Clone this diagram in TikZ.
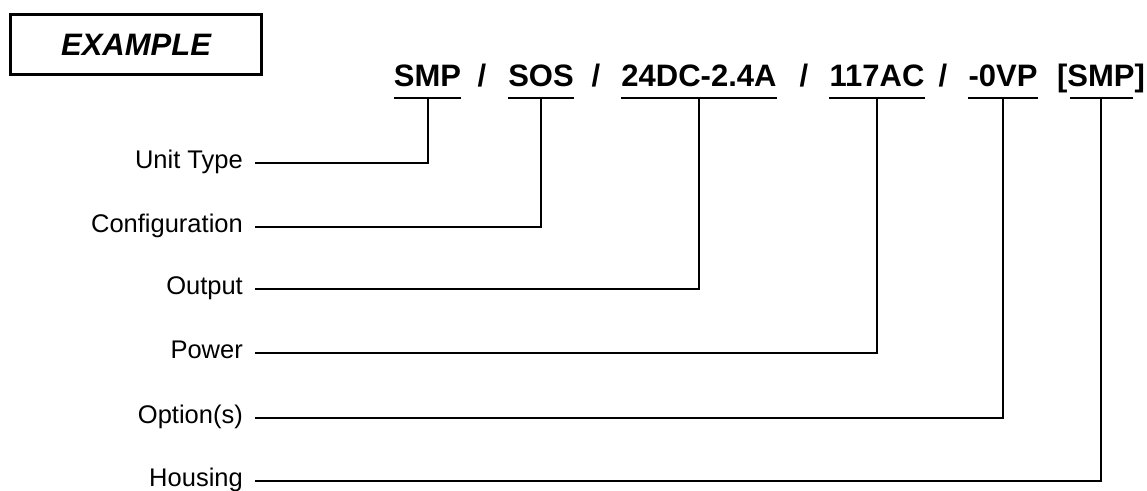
\documentclass[tikz,border=0pt]{standalone}
\usepackage{fontspec}
\setmainfont{Liberation Sans}
\usetikzlibrary{positioning}

\begin{document}
\begin{tikzpicture}[
    x=1pt, y=-1pt,
    code/.style={inner sep=0pt, anchor=base, text height=22pt, text depth=12pt,
                font=\fontsize{31}{36}\selectfont\bfseries},
    field/.style={inner sep=0pt, anchor=east, text height=17pt, text depth=7pt,
                font=\fontsize{25.5}{30}\selectfont},
    tag/.style={draw, line width=3pt, minimum width=251pt, minimum height=60pt,
                font=\fontsize{31}{36}\selectfont\bfseries\itshape},
    lead/.style={line width=2pt}
]
\useasboundingbox (0,0) rectangle (1147,490);

% title box
\node[tag] (ex) at (136,44.5) {EXAMPLE};

% model code
\node[code] (smp) at (427.5,86) {SMP};
\node[code] (sl1) at (482,86) {/};
\node[code] (sos) at (541,86) {SOS};
\node[code] (sl2) at (596,86) {/};
\node[code] (outp) at (699,86) {24DC-2.4A};
\node[code] (sl3) at (804,86) {/};
\node[code] (pwr) at (877,86) {117AC};
\node[code] (sl4) at (943,86) {/};
\node[code] (opt) at (1003,86) {-0VP};
\node[code] (hsg) at (1101,86) {[SMP]};

% field names
\node[field] (unit) at (243,163) {Unit Type};
\node[field] (conf) at (243,227) {Configuration};
\node[field] (outl) at (243,289) {Output};
\node[field] (powl) at (243,353) {Power};
\node[field] (optl) at (243,418) {Option(s)};
\node[field] (hsgl) at (243,481) {Housing};

% underlines
\draw[lead] (smp.south west) -- (smp.south east);
\draw[lead] (sos.south west) -- (sos.south east);
\draw[lead] (outp.south west) -- (outp.south east);
\draw[lead] (pwr.south west) -- (pwr.south east);
\draw[lead] (opt.south west) -- (opt.south east);
\draw[lead, shorten <=13pt, shorten >=12pt] (hsg.south west) -- (hsg.south east);

% leaders
\draw[lead] ([xshift=12pt]unit.east) -| (smp.south);
\draw[lead] ([xshift=12pt]conf.east) -| (sos.south);
\draw[lead] ([xshift=12pt]outl.east) -| (outp.south);
\draw[lead] ([xshift=12pt]powl.east) -| (pwr.south);
\draw[lead] ([xshift=12pt]optl.east) -| (opt.south);
\draw[lead] ([xshift=12pt]hsgl.east) -| (hsg.south);
\end{tikzpicture}
\end{document}
